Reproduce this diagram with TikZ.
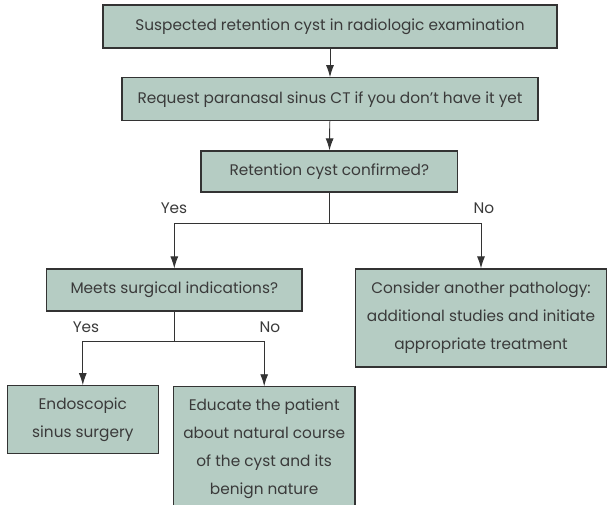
\documentclass[tikz,border=0pt]{standalone}
\usepackage{fontspec}
\setmainfont{Poppins}
\usetikzlibrary{arrows.meta}
\definecolor{boxfill}{RGB}{181,204,195}
\definecolor{linegray}{RGB}{51,51,51}
\definecolor{textgray}{RGB}{58,58,58}

\begin{document}
\begin{tikzpicture}[x=0.75pt,y=-0.75pt,
    box/.style={draw=linegray,fill=boxfill,line width=0.9pt,align=center,inner sep=0pt,
        text=textgray,font=\fontsize{11.5}{21}\selectfont},
    arr/.style={draw=linegray,line width=0.7pt,-{Latex[length=9pt,width=6pt]}},
    lab/.style={text=textgray,font=\fontsize{11.5}{13}\selectfont}]
        \useasboundingbox (0,0) rectangle (608,505);
        \clip (0,0) rectangle (608,505);
        % boxes
        \node[box,minimum width=340.5pt,minimum height=32.25pt] (suspect) at (330,26.5) {Suspected retention cyst in radiologic examination};
        \node[box,minimum width=312pt,minimum height=32.25pt] (request) at (330,99.3) {Request paranasal sinus CT if you don't have it yet};
        \node[box,minimum width=192.4pt,minimum height=30.75pt] (confirm) at (329.3,171.5) {Retention cyst confirmed?};
        \node[box,minimum width=191.6pt,minimum height=31.5pt] (indic) at (174.3,290) {Meets surgical indications?};
        \node[box,minimum width=188.3pt,minimum height=73.5pt] (other) at (481,318) {Consider another pathology:\\ additional studies and initiate\\ appropriate treatment};
        \node[box,minimum width=113.3pt,minimum height=50.7pt] (surgery) at (82.8,419.5) {Endoscopic\\ sinus surgery};
        \node[box,minimum width=136.3pt,minimum height=93.2pt] (educate) at (264.2,449) {Educate the patient\\ about natural course\\ of the cyst and its\\ benign nature};
        % branch points
        \coordinate (split1) at (329.3,223);
        \coordinate (split2) at (174.3,341);
        % labels
        \node[lab] (yes1) at (174,208) {Yes};
        \node[lab] (no1) at (484,208) {No};
        \node[lab] (yes2) at (86,327) {Yes};
        \node[lab] (no2) at (270,327) {No};
        % connectors
        \draw[arr] (suspect) -- (request);
        \draw[arr] (request) -- (confirm);
        \draw[linegray,line width=0.7pt] (confirm) -- (split1);
        \draw[arr] (split1) -| (indic.north);
        \draw[arr] (split1) -| (other.north);
        \draw[linegray,line width=0.7pt] (indic) -- (split2);
        \draw[arr] (split2) -| (surgery.north);
        \draw[arr] (split2) -| (educate.north);
\end{tikzpicture}
\end{document}
